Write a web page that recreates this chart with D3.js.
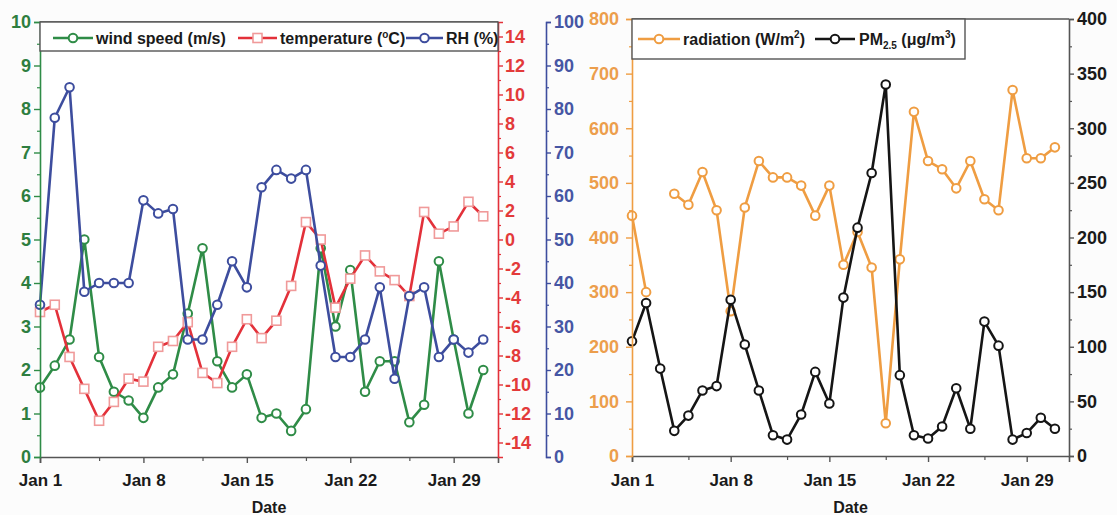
<!DOCTYPE html>
<html>
<head>
<meta charset="utf-8">
<script src="https://cdn.jsdelivr.net/npm/d3@7"></script>
<style>
  body { margin: 0; background: #fcfcfc; }
  text { font-family: "Liberation Sans", Arial, sans-serif; font-weight: bold; }
</style>
</head>
<body>
<svg id="chart" width="1117" height="515"></svg>
<script>
// daily values, January
const days = [1, 2, 3, 4, 5, 6, 7, 8, 9, 10, 11, 12, 13, 14, 15, 16, 17, 18, 19, 20, 21, 22, 23, 24, 25, 26, 27, 28, 29, 30, 31];
const windSpeed = [1.6, 2.1, 2.7, 5.0, 2.3, 1.5, 1.3, 0.9, 1.6, 1.9, 3.3, 4.8, 2.2, 1.6, 1.9, 0.9, 1.0, 0.6, 1.1, 4.8, 3.0, 4.3, 1.5, 2.2, 2.2, 0.8, 1.2, 4.5, 2.7, 1.0, 2.0];
const temperature = [-5.0, -4.5, -8.1, -10.3, -12.5, -11.2, -9.6, -9.8, -7.4, -7.0, -5.7, -9.2, -9.9, -7.4, -5.5, -6.8, -5.6, -3.2, 1.2, 0.0, -4.7, -2.7, -1.1, -2.2, -2.8, -3.9, 1.9, 0.4, 0.9, 2.6, 1.6];
const rh = [35, 78, 85, 38, 40, 40, 40, 59, 56, 57, 27, 27, 35, 45, 39, 62, 66, 64, 66, 44, 23, 23, 27, 39, 18, 37, 39, 23, 27, 24, 27];
const radiation = [440, 300, null, 480, 460, 520, 450, 265, 455, 540, 510, 510, 495, 440, 495, 350, 410, 345, 60, 360, 630, 540, 525, 490, 540, 470, 450, 670, 545, 545, 565];
const pm25 = [105, 140, 80, 23, 37, 60, 64, 143, 102, 60, 19, 15, 38, 77, 48, 145, 209, 259, 340, 74, 19, 16, 27, 62, 25, 123, 101, 15, 21, 35, 25];

// tick labels
const majorDays = [1, 8, 15, 22, 29];
const minorDays = [5, 12, 19, 26];
const windTicks = [0, 1, 2, 3, 4, 5, 6, 7, 8, 9, 10];
const tempTicks = [-14, -12, -10, -8, -6, -4, -2, 0, 2, 4, 6, 8, 10, 12, 14];
const rhTicks = [0, 10, 20, 30, 40, 50, 60, 70, 80, 90, 100];
const radTicks = [0, 100, 200, 300, 400, 500, 600, 700, 800];
const pmTicks = [0, 50, 100, 150, 200, 250, 300, 350, 400];

const C = {
  green: '#2f8c47', greenTxt: '#2e7e40',
  red: '#e3313a', redTxt: '#e33a3a',
  blue: '#3d4d9e', blueTxt: '#4656a4',
  orange: '#ef9d42', orangeTxt: '#ec9e4c',
  black: '#151515', frame: '#555'
};

const svg = d3.select('#chart');
const day = d => new Date(2000, 0, d);
const fmtDate = d3.timeFormat('Jan %-d');

function styleAxis(g, color, txtColor, size) {
  g.select('.domain').attr('stroke', color).attr('stroke-width', 1.6);
  g.selectAll('.tick line').attr('stroke', color).attr('stroke-width', 1.4);
  g.selectAll('.tick text').attr('fill', txtColor).attr('font-size', size)
    .attr('font-family', '"Liberation Sans", Arial, sans-serif').attr('font-weight', 'bold');
  return g;
}

function minor(g, axis, color) {
  g.call(axis.tickFormat(''));
  g.select('.domain').remove();
  g.selectAll('.tick line').attr('stroke', color).attr('stroke-width', 1.2);
}

function series(g, x, y, values, color, shape) {
  const pts = days.map((d, i) => ({ d: d, v: values[i] }));
  const line = d3.line().defined(p => p.v != null).x(p => x(day(p.d))).y(p => y(p.v));
  g.append('path').datum(pts).attr('d', line)
    .attr('fill', 'none').attr('stroke', color).attr('stroke-width', 2.6).attr('stroke-linejoin', 'round');
  const valid = pts.filter(p => p.v != null);
  if (shape === 'square') {
    g.selectAll(null).data(valid).join('rect')
      .attr('x', p => x(day(p.d)) - 4.5).attr('y', p => y(p.v) - 4.5)
      .attr('width', 9).attr('height', 9)
      .attr('fill', '#fff').attr('stroke', '#f09a9a').attr('stroke-width', 1.6);
  } else {
    g.selectAll(null).data(valid).join('circle')
      .attr('cx', p => x(day(p.d))).attr('cy', p => y(p.v)).attr('r', 4.3)
      .attr('fill', '#fff').attr('stroke', color).attr('stroke-width', 2);
  }
}

function legendItem(g, x0, x1, y, color, shape) {
  g.append('line').attr('x1', x0).attr('x2', x1).attr('y1', y).attr('y2', y)
    .attr('stroke', color).attr('stroke-width', 2.6);
  const cx = (x0 + x1) / 2;
  if (shape === 'square') {
    g.append('rect').attr('x', cx - 4.5).attr('y', y - 4.5).attr('width', 9).attr('height', 9)
      .attr('fill', '#fff').attr('stroke', '#f09a9a').attr('stroke-width', 1.6);
  } else {
    g.append('circle').attr('cx', cx).attr('cy', y).attr('r', 4.3)
      .attr('fill', '#fff').attr('stroke', color).attr('stroke-width', 2);
  }
}

// ---------- left panel ----------
{
  const L = { x0: 40, x1: 498, y0: 22, y1: 457 };
  const x = d3.scaleTime().domain([day(1), day(32)]).range([L.x0, L.x1]);
  const yW = d3.scaleLinear().domain([0, 10]).range([L.y1, L.y0]);
  const yT = d3.scaleLinear().domain([-15, 15]).range([L.y1, L.y0]);
  const yR = d3.scaleLinear().domain([0, 100]).range([L.y1, L.y0]);
  const g = svg.append('g');

  g.append('rect').attr('x', L.x0).attr('y', L.y0).attr('width', L.x1 - L.x0).attr('height', L.y1 - L.y0)
    .attr('fill', '#fff');

  series(g, x, yW, windSpeed, C.green, 'circle');
  series(g, x, yT, temperature, C.red, 'square');
  series(g, x, yR, rh, C.blue, 'circle');

  // frame top
  g.append('line').attr('x1', L.x0).attr('x2', L.x1).attr('y1', L.y0).attr('y2', L.y0)
    .attr('stroke', C.frame).attr('stroke-width', 1.6);

  // x axis
  minor(g.append('g').attr('transform', `translate(0,${L.y1})`),
    d3.axisBottom(x).tickValues(minorDays.map(day)).tickSize(4), C.frame);
  styleAxis(g.append('g').attr('transform', `translate(0,${L.y1})`)
    .call(d3.axisBottom(x).tickValues(majorDays.map(day)).tickFormat(fmtDate).tickSize(6).tickPadding(11)),
    C.frame, '#1a1a1a', 17);

  // wind axis
  minor(g.append('g').attr('transform', `translate(${L.x0},0)`),
    d3.axisLeft(yW).tickValues(d3.range(0.5, 10, 1)).tickSize(3), C.green);
  styleAxis(g.append('g').attr('transform', `translate(${L.x0},0)`)
    .call(d3.axisLeft(yW).tickValues(windTicks).tickSize(6).tickPadding(3)), C.green, C.greenTxt, 18);

  // temperature axis
  minor(g.append('g').attr('transform', `translate(${L.x1},0)`),
    d3.axisRight(yT).tickValues(d3.range(-13, 15, 2)).tickSize(3), C.red);
  styleAxis(g.append('g').attr('transform', `translate(${L.x1},0)`)
    .call(d3.axisRight(yT).tickValues(tempTicks).tickFormat(d => String(d)).tickSize(5).tickPadding(2)),
    C.red, C.redTxt, 18);

  // RH axis
  const rx = 546;
  minor(g.append('g').attr('transform', `translate(${rx},0)`),
    d3.axisRight(yR).tickValues(d3.range(5, 100, 10)).tickSize(3), C.blue);
  styleAxis(g.append('g').attr('transform', `translate(${rx},0)`)
    .call(d3.axisRight(yR).tickValues(rhTicks).tickSize(5).tickPadding(3)), C.blue, C.blueTxt, 18);

  g.append('text').attr('x', (L.x0 + L.x1) / 2).attr('y', 513).attr('text-anchor', 'middle')
    .attr('font-size', 16).attr('fill', '#1a1a1a').text('Date');

  // legend
  const lg = g.append('g');
  lg.append('rect').attr('x', L.x0).attr('y', L.y0).attr('width', L.x1 - L.x0).attr('height', 29)
    .attr('fill', '#fff').attr('stroke', C.frame).attr('stroke-width', 1.4);
  const ly = 38, tb = 44;
  legendItem(lg, 53, 93, ly, C.green, 'circle');
  lg.append('text').attr('x', 96).attr('y', tb).attr('font-size', 16).attr('fill', '#1a1a1a').text('wind speed (m/s)');
  legendItem(lg, 238, 277, ly, C.red, 'square');
  const tt = lg.append('text').attr('x', 280).attr('y', tb).attr('font-size', 16).attr('fill', '#1a1a1a');
  tt.append('tspan').text('temperature (');
  tt.append('tspan').attr('font-size', 10).attr('dy', -6).text('o');
  tt.append('tspan').attr('dy', 6).text('C)');
  legendItem(lg, 406, 443, ly, C.blue, 'circle');
  lg.append('text').attr('x', 446).attr('y', tb).attr('font-size', 16).attr('fill', '#1a1a1a').text('RH (%)');
}

// ---------- right panel ----------
{
  const R = { x0: 632, x1: 1069, y0: 19, y1: 456 };
  const x = d3.scaleTime().domain([day(1), day(32)]).range([R.x0, R.x1]);
  const yRad = d3.scaleLinear().domain([0, 800]).range([R.y1, R.y0]);
  const yPm = d3.scaleLinear().domain([0, 400]).range([R.y1, R.y0]);
  const g = svg.append('g');

  g.append('rect').attr('x', R.x0).attr('y', R.y0).attr('width', R.x1 - R.x0).attr('height', R.y1 - R.y0)
    .attr('fill', '#fff');

  series(g, x, yRad, radiation, C.orange, 'circle');
  series(g, x, yPm, pm25, C.black, 'circle');

  g.append('line').attr('x1', R.x0).attr('x2', R.x1).attr('y1', R.y0).attr('y2', R.y0)
    .attr('stroke', C.frame).attr('stroke-width', 1.6);

  minor(g.append('g').attr('transform', `translate(0,${R.y1})`),
    d3.axisBottom(x).tickValues(minorDays.map(day)).tickSize(4), C.frame);
  styleAxis(g.append('g').attr('transform', `translate(0,${R.y1})`)
    .call(d3.axisBottom(x).tickValues(majorDays.map(day)).tickFormat(fmtDate).tickSize(6).tickPadding(12)),
    C.frame, '#1a1a1a', 17);

  minor(g.append('g').attr('transform', `translate(${R.x0},0)`),
    d3.axisLeft(yRad).tickValues(d3.range(50, 800, 100)).tickSize(3), C.orange);
  styleAxis(g.append('g').attr('transform', `translate(${R.x0},0)`)
    .call(d3.axisLeft(yRad).tickValues(radTicks).tickSize(6).tickPadding(7)), C.orange, C.orangeTxt, 18);

  minor(g.append('g').attr('transform', `translate(${R.x1},0)`),
    d3.axisRight(yPm).tickValues(d3.range(25, 400, 50)).tickSize(3), C.frame);
  styleAxis(g.append('g').attr('transform', `translate(${R.x1},0)`)
    .call(d3.axisRight(yPm).tickValues(pmTicks).tickSize(5).tickPadding(3)), C.frame, '#1a1a1a', 18);

  g.append('text').attr('x', (R.x0 + R.x1) / 2).attr('y', 513).attr('text-anchor', 'middle')
    .attr('font-size', 16).attr('fill', '#1a1a1a').text('Date');

  const lg = g.append('g');
  lg.append('rect').attr('x', R.x0).attr('y', R.y0).attr('width', 965 - R.x0).attr('height', 40)
    .attr('fill', '#fff').attr('stroke', C.frame).attr('stroke-width', 1.4);
  const ly = 39, tb = 45;
  legendItem(lg, 638, 680, ly, C.orange, 'circle');
  const t1 = lg.append('text').attr('x', 683).attr('y', tb).attr('font-size', 16).attr('fill', '#1a1a1a');
  t1.append('tspan').text('radiation (W/m');
  t1.append('tspan').attr('font-size', 10).attr('dy', -7).text('2');
  t1.append('tspan').attr('dy', 7).text(')');
  legendItem(lg, 815, 855, ly, C.black, 'circle');
  const t2 = lg.append('text').attr('x', 859).attr('y', tb).attr('font-size', 16).attr('fill', '#1a1a1a');
  t2.append('tspan').text('PM');
  t2.append('tspan').attr('font-size', 10).attr('dy', 4).text('2.5');
  t2.append('tspan').attr('dy', -4).text(' (μg/m');
  t2.append('tspan').attr('font-size', 10).attr('dy', -7).text('3');
  t2.append('tspan').attr('dy', 7).text(')');
}
</script>
</body>
</html>
